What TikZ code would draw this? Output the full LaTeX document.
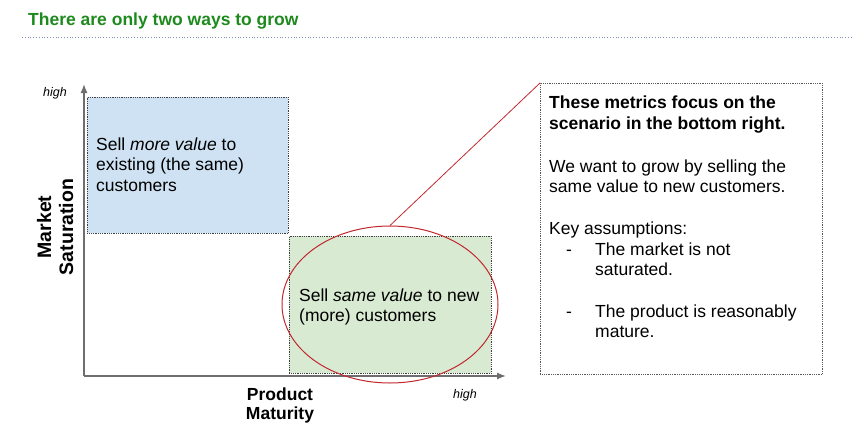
\documentclass[tikz,border=0pt]{standalone}
\usepackage{fontspec}
\setmainfont{Liberation Sans}
\usetikzlibrary{arrows.meta,shapes.geometric}
\definecolor{titlegreen}{HTML}{1E8A1E}
\definecolor{qblue}{HTML}{CFE2F3}
\definecolor{qgreen}{HTML}{D9EAD3}
\definecolor{sepline}{HTML}{7F8FB0}
\definecolor{axisgray}{HTML}{6E6E6E}
\definecolor{ringred}{HTML}{C0282D}
\tikzset{
  quad/.style={draw=black!75, densely dotted, line width=0.8pt, anchor=north west, inner sep=0pt},
  ln/.style={font=\fontsize{17.5}{20.5}\selectfont, inner sep=0pt, anchor=base west},
  hightxt/.style={font=\fontsize{12.5}{14}\selectfont\itshape, inner sep=0pt, anchor=base},
  axislbl/.style={font=\bfseries, inner sep=0pt, anchor=base},
  axis/.style={draw=axisgray, line width=1.3pt, -{Latex[length=9pt,width=7pt]}}
}
\begin{document}
\begin{tikzpicture}[x=1pt,y=-1pt]
\useasboundingbox (0,0) rectangle (868,440);
% title
\node[anchor=base west, inner sep=0pt, text=titlegreen, font=\fontsize{17.5}{20}\selectfont\bfseries] (title) at (28,25) {There are only two ways to grow};
\draw[sepline, dotted, line width=0.8pt] (22,37) -- (853,37);
% quadrants
\node[quad, fill=qblue, minimum width=201pt, minimum height=136pt] (q1) at (87,97) {};
\node[quad, fill=qgreen, minimum width=202pt, minimum height=137pt] (q2) at (289,236) {};
\node[ln] (t1a) at (96,150) {Sell \textit{more value} to};
\node[ln] (t1b) at (96,170.5) {existing (the same)};
\node[ln] (t1c) at (96,191) {customers};
\node[ln] (t2a) at (299,301) {Sell \textit{same value} to new};
\node[ln] (t2b) at (299,321.5) {(more) customers};
% axes
\coordinate (o) at (84,376);
\coordinate (ytop) at (84,84);
\coordinate (xend) at (506,376);
\draw[axis] (o) -- (ytop);
\draw[axis] (o) -- (xend);
\node[hightxt] (hy) at (55,96) {high};
\node[hightxt] (hx) at (465,398) {high};
\node[axislbl, font=\fontsize{19.5}{22}\selectfont\bfseries, rotate=90] (ylab1) at (51,227) {Market};
\node[axislbl, font=\fontsize{19.5}{22}\selectfont\bfseries, rotate=90] (ylab2) at (73,227) {Saturation};
\node[axislbl, font=\fontsize{17.5}{20}\selectfont\bfseries] (xlab1) at (280,400) {Product};
\node[axislbl, font=\fontsize{17.5}{20}\selectfont\bfseries] (xlab2) at (280,419.5) {Maturity};
% ellipse and callout
\node[draw=ringred, line width=1pt, ellipse, minimum width=216pt, minimum height=157pt] (ring) at (390,304.5) {};
\node[draw=black!65, densely dotted, line width=0.8pt, minimum width=282pt, minimum height=291pt, anchor=north west, inner sep=0pt] (box) at (540,83) {};
\draw[ringred, line width=0.8pt] (ring.north) -- (box.north west);
\node[ln, font=\fontsize{17.5}{20.5}\selectfont\bfseries] (b1) at (549,108) {These metrics focus on the};
\node[ln, font=\fontsize{17.5}{20.5}\selectfont\bfseries] (b2) at (549,129) {scenario in the bottom right.};
\node[ln] (b3) at (549,172) {We want to grow by selling the};
\node[ln] (b4) at (549,192.5) {same value to new customers.};
\node[ln] (b5) at (549,234) {Key assumptions:};
\node[ln] (d1) at (566,255) {-};
\node[ln] (b6) at (595,255) {The market is not};
\node[ln] (b7) at (595,275.5) {saturated.};
\node[ln] (d2) at (566,317) {-};
\node[ln] (b8) at (595,317) {The product is reasonably};
\node[ln] (b9) at (595,337.5) {mature.};
\end{tikzpicture}
\end{document}
